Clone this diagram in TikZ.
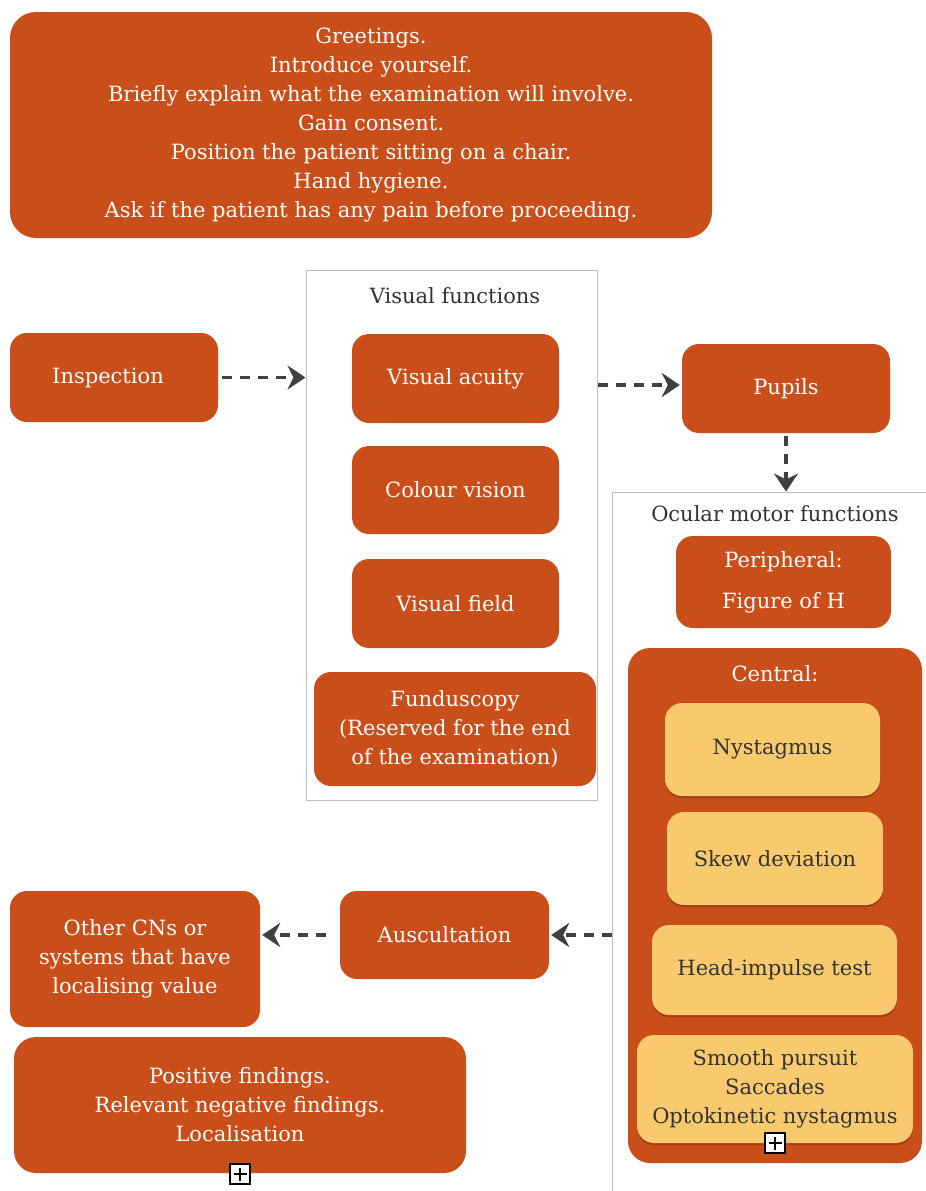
\documentclass[tikz,border=0pt]{standalone}
\usepackage{fontspec}
\setmainfont{DejaVu Serif}
\usetikzlibrary{arrows.meta,positioning,shadows}

\definecolor{rust}{RGB}{201,78,25}
\definecolor{sand}{RGB}{249,201,110}
\definecolor{ink}{RGB}{51,51,51}
\definecolor{arrowgray}{RGB}{64,64,64}
\definecolor{framegray}{RGB}{190,190,190}

\newcommand{\nudge}{\hspace*{20pt}}

\tikzset{
  box/.style={rounded corners=17pt, fill=rust, text=white, align=center,
    inner sep=0pt, font=\fontsize{21}{29}\selectfont},
  subbox/.style={box, fill=sand, text=ink,
    drop shadow={shadow xshift=0pt, shadow yshift=-2pt, opacity=0.3, fill=black!70!rust}},
  frame/.style={draw=framegray, line width=1pt, inner sep=0pt},
  title/.style={text=ink, font=\fontsize{21}{29}\selectfont},
  link/.style={arrowgray, line width=3.5pt, dash pattern=on 10pt off 8pt,
    -{Stealth[length=18pt,width=24pt,inset=6pt]}},
  plusbox/.style={draw, fill=white, line width=1.2pt, minimum size=20pt, inner sep=0pt,
    path picture={
      \draw[line width=1.5pt] ([yshift=-3.5pt]path picture bounding box.north) -- ([yshift=3.5pt]path picture bounding box.south);
      \draw[line width=1.5pt] ([xshift=3.5pt]path picture bounding box.west) -- ([xshift=-3.5pt]path picture bounding box.east);
    }}
}

\begin{document}
\begin{tikzpicture}[x=1pt,y=-1pt]
\useasboundingbox (0,0) rectangle (926,1191);

% opening
\node[box, rounded corners=26pt, minimum width=702pt, minimum height=226pt] (intro) at (361,125)
  {\nudge Greetings.\\\nudge Introduce yourself.\\\nudge Briefly explain what the examination will involve.\\\nudge Gain consent.\\\nudge Position the patient sitting on a chair.\\\nudge Hand hygiene.\\\nudge Ask if the patient has any pain before proceeding.};

% visual functions
\node[frame, minimum width=291pt, minimum height=530pt] (vf) at (451.5,535) {};
\node[title] (vftitle) at (455,296) {Visual functions};
\node[box, minimum width=208pt, minimum height=89pt] (insp) at (114,377.5) {\hspace*{-12pt}Inspection};
\node[box, minimum width=207pt, minimum height=89pt] (acuity) at (455.5,378.5) {Visual acuity};
\node[box, minimum width=207pt, minimum height=88pt] (colour) at (455.5,490) {Colour vision};
\node[box, minimum width=207pt, minimum height=89pt] (field) at (455.5,603.5) {Visual field};
\node[box, minimum width=282pt, minimum height=114pt] (fundus) at (455,729)
  {Funduscopy\\(Reserved for the end\\of the examination)};
\node[box, minimum width=208pt, minimum height=89pt] (pupils) at (786,388.5) {Pupils};

% ocular motor functions
\node[frame, minimum width=338pt, minimum height=718pt] (om) at (781,851) {};
\node[title] (omtitle) at (775,514) {Ocular motor functions};
\node[box, minimum width=215pt, minimum height=92pt] (periph) at (783.5,582)
  {Peripheral:\\[12pt]Figure of H};
\node[box, rounded corners=22pt, minimum width=294pt, minimum height=515pt] (central) at (775,905.5) {};
\node[text=white, font=\fontsize{21}{29}\selectfont] (ctitle) at (775,674) {Central:};
\node[subbox, minimum width=215pt, minimum height=93pt] (nyst) at (772.5,749.5) {Nystagmus};
\node[subbox, minimum width=216pt, minimum height=93pt] (skew) at (775,858.5) {Skew deviation};
\node[subbox, minimum width=245pt, minimum height=90pt] (head) at (774.5,970) {Head-impulse test};
\node[subbox, minimum width=276pt, minimum height=108pt] (smooth) at (775,1089)
  {Smooth pursuit\\Saccades\\Optokinetic nystagmus};
\node[plusbox] (more1) at (775,1143) {};

% closing
\node[box, minimum width=209pt, minimum height=88pt] (ausc) at (444.5,935) {Auscultation};
\node[box, minimum width=250pt, minimum height=136pt] (other) at (135,959)
  {Other CNs or\\systems that have\\localising value};
\node[box, rounded corners=22pt, minimum width=452pt, minimum height=136pt] (summary) at (240,1105)
  {Positive findings.\\Relevant negative findings.\\Localisation};
\node[plusbox] (more2) at (240,1174) {};

% flow
\draw[link] ([xshift=4pt]insp.east) -- (vf.west |- insp.east);
\draw[link] (vf.east |- 0,385) -- ([xshift=-2pt]pupils.west |- 0,385);
\draw[link] ([yshift=-3pt]pupils.south) -- (pupils.south |- om.north);
\draw[link] (om.west |- ausc.east) -- ([xshift=2pt]ausc.east);
\draw[link] ([xshift=-14pt]ausc.west) -- ([xshift=2pt]other.east |- ausc.west);
\end{tikzpicture}
\end{document}
